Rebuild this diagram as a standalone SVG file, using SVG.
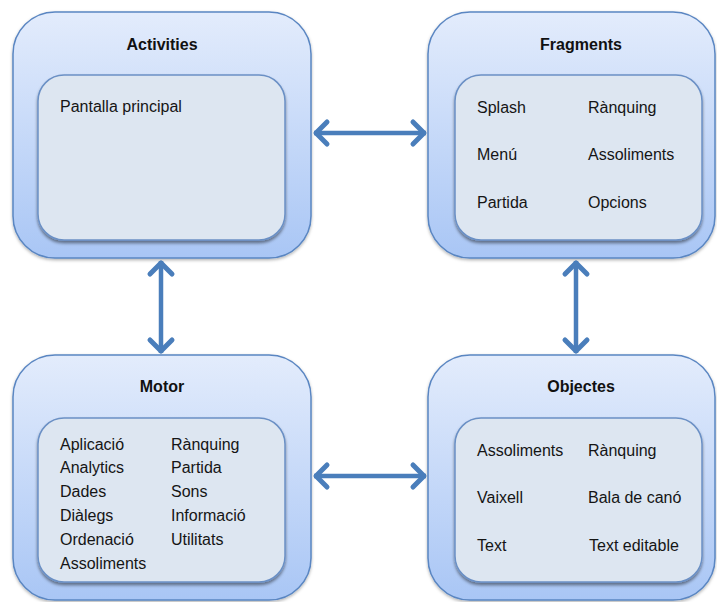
<svg xmlns="http://www.w3.org/2000/svg" width="717" height="602" viewBox="0 0 717 602">
  <defs>
    <linearGradient id="outerFill" x1="0" y1="0" x2="0" y2="1">
      <stop offset="0" stop-color="#e3ecfc"/>
      <stop offset="1" stop-color="#a9c6f5"/>
    </linearGradient>
    <filter id="shadow" x="-10%" y="-10%" width="120%" height="125%">
      <feDropShadow dx="0" dy="2.5" stdDeviation="1.8" flood-color="#000" flood-opacity="0.45"/>
    </filter>
    <filter id="softShadow" x="-10%" y="-10%" width="120%" height="125%">
      <feDropShadow dx="0" dy="1.5" stdDeviation="1.5" flood-color="#000" flood-opacity="0.3"/>
    </filter>
    <marker id="chevron" markerUnits="userSpaceOnUse" viewBox="-20 -15 30 30" markerWidth="30" markerHeight="30" refX="2" refY="0" orient="auto-start-reverse">
      <path d="M -11 -11 L 0 0 L -11 11" fill="none" stroke="#4a7ebb" stroke-width="5" stroke-linecap="round" stroke-linejoin="round"/>
    </marker>
  </defs>
  <style>
    .outer { fill: url(#outerFill); stroke: #5a86c2; stroke-width: 1.5; filter: url(#softShadow); }
    .inner { fill: #dde6f1; stroke: #6b90c5; stroke-width: 1.5; filter: url(#shadow); }
    .title { font-family: "Liberation Sans", Arial, sans-serif; font-weight: bold; font-size: 16px; fill: #111; text-anchor: middle; }
    .item { font-family: "Liberation Sans", Arial, sans-serif; font-size: 16px; fill: #151515; }
    .link { fill: none; stroke: #4a7ebb; stroke-width: 4.5; marker-start: url(#chevron); marker-end: url(#chevron); }
  </style>
  <rect width="717" height="602" fill="#ffffff"/>

  <!-- Activities -->
  <g id="activities">
    <rect class="outer" x="13" y="12" width="298" height="246" rx="42" ry="42"/>
    <text class="title" x="162" y="50">Activities</text>
    <rect class="inner" x="38" y="75" width="247" height="165" rx="26" ry="26"/>
    <text class="item" x="60" y="112">Pantalla principal</text>
  </g>

  <!-- Fragments -->
  <g id="fragments">
    <rect class="outer" x="428" y="12" width="287" height="246" rx="42" ry="42"/>
    <text class="title" x="581" y="50">Fragments</text>
    <rect class="inner" x="455" y="75" width="247" height="165" rx="26" ry="26"/>
    <text class="item" x="477" y="113">Splash</text>
    <text class="item" x="588" y="113">Rànquing</text>
    <text class="item" x="477" y="160">Menú</text>
    <text class="item" x="588" y="160">Assoliments</text>
    <text class="item" x="477" y="208">Partida</text>
    <text class="item" x="588" y="208">Opcions</text>
  </g>

  <!-- Motor -->
  <g id="motor">
    <rect class="outer" x="13" y="355" width="298" height="245" rx="42" ry="42"/>
    <text class="title" x="162" y="392">Motor</text>
    <rect class="inner" x="38" y="418" width="247" height="164" rx="26" ry="26"/>
    <text class="item" x="60" y="450">Aplicació</text>
    <text class="item" x="60" y="473">Analytics</text>
    <text class="item" x="60" y="497">Dades</text>
    <text class="item" x="60" y="521">Diàlegs</text>
    <text class="item" x="60" y="545">Ordenació</text>
    <text class="item" x="60" y="569">Assoliments</text>
    <text class="item" x="171" y="450">Rànquing</text>
    <text class="item" x="171" y="473">Partida</text>
    <text class="item" x="171" y="497">Sons</text>
    <text class="item" x="171" y="521">Informació</text>
    <text class="item" x="171" y="545">Utilitats</text>
  </g>

  <!-- Objectes -->
  <g id="objectes">
    <rect class="outer" x="428" y="355" width="287" height="245" rx="42" ry="42"/>
    <text class="title" x="581" y="392">Objectes</text>
    <rect class="inner" x="455" y="418" width="247" height="164" rx="26" ry="26"/>
    <text class="item" x="477" y="456">Assoliments</text>
    <text class="item" x="588" y="456">Rànquing</text>
    <text class="item" x="477" y="503">Vaixell</text>
    <text class="item" x="588" y="503">Bala de canó</text>
    <text class="item" x="477" y="551">Text</text>
    <text class="item" x="589" y="551">Text editable</text>
  </g>

  <!-- Connectors -->
  <g id="connectors">
    <line class="link" x1="314" y1="133" x2="426" y2="133"/>
    <line class="link" x1="314" y1="476" x2="426" y2="476"/>
    <line class="link" x1="161" y1="261" x2="161" y2="353"/>
    <line class="link" x1="576" y1="261" x2="576" y2="353"/>
  </g>
</svg>
